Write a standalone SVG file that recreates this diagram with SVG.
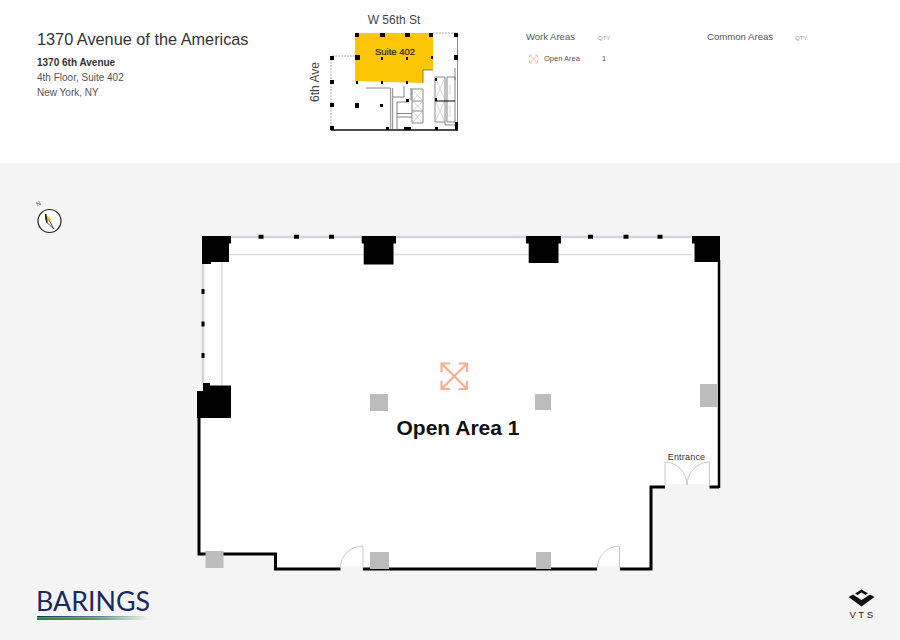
<svg xmlns="http://www.w3.org/2000/svg" width="900" height="640" viewBox="0 0 900 640">
<style>
text{font-family:"Liberation Sans",Arial,sans-serif}
.col{fill:#000}
.gc{fill:#bcbcbc}
.wall{fill:none;stroke:#000;stroke-width:3;stroke-linejoin:miter}
.door{fill:none;stroke:#c8c8c8;stroke-width:1}
.gl{stroke:#d5d3e0;stroke-width:2.500;fill:none}
.in{stroke:#dcdcdc;stroke-width:1.500;fill:none}
.k{fill:none;stroke:#555;stroke-width:.7}
.kd{fill:none;stroke:#999;stroke-width:.8;stroke-dasharray:2 1}
.kl{fill:none;stroke:#bbb;stroke-width:.6}
.kw{fill:none;stroke:#111;stroke-width:1.500}
.ic{fill:none;stroke:#f8ae93;stroke-width:2.200}
</style>
<defs>
<linearGradient id="g1" x1="0" x2="1" y1="0" y2="0"><stop offset="0" stop-color="#1f8a3a"/><stop offset=".5" stop-color="#4f9a60"/><stop offset="1" stop-color="#f4f4f4"/></linearGradient>
<linearGradient id="g2" x1="0" x2="1" y1="0" y2="0"><stop offset="0" stop-color="#17305f"/><stop offset=".6" stop-color="#7080a0"/><stop offset="1" stop-color="#f4f4f4"/></linearGradient>
</defs>
<rect width="900" height="640" fill="#fff"/>
<rect y="163" width="900" height="477" fill="#f4f4f4"/>

<g id="header">
<text x="37" y="45" font-size="16.300" fill="#333">1370 Avenue of the Americas</text>
<text x="37" y="66" font-size="10" font-weight="700" fill="#333">1370 6th Avenue</text>
<text x="37" y="81" font-size="10" fill="#555">4th Floor, Suite 402</text>
<text x="37" y="96" font-size="10" fill="#555">New York, NY</text>
</g>

<g id="key-plan">
<text x="394" y="24" font-size="12" text-anchor="middle" fill="#444">W 56th St</text>
<text transform="translate(319,82) rotate(-90)" font-size="12" text-anchor="middle" fill="#444">6th Ave</text>
<path d="M355 33H433V70H423V83L355 81Z" fill="#fdc605"/>
<path class="kd" d="M331 130V56H355M433 33H458"/>
<path class="k" d="M457.500 33V130"/>
<path class="kw" d="M331 130H458"/>
<path class="k" d="M366 88H390.500M390.700 88V130M392.700 88V130M397 102H408M397 102V130M397 113.500H412M397 117H412M412 89H423V123H412ZM412 101H423M412 111H423M435 77H445V122H435ZM447 77H455V122H447ZM445 122V125H456M423 70H433M423 70V83M455 68V80M411 88V100M404 86V97H393"/>
<path class="kl" d="M412 89L423 101M423 89L412 101M412 101L423 111M423 101L412 111M412 111L423 123M423 111L412 123M435 77L445 100M445 77L435 100M435 100L445 122M445 100L435 122M450 85V95M450 105V117"/>
<path class="col" d="M355 33h4v4h-4ZM380 33h5v4h-5ZM405 33h5v4h-5ZM429 33h4v4h-4ZM454 33h4v4h-4ZM355 55h5v5h-5ZM381 57h2v3h-2ZM406 57h2v3h-2ZM431 56h2v3h-2ZM454 55h4v5h-4ZM330 56h4v4h-4ZM330 80h4v4h-4ZM330 103h4v4h-4ZM355 103h4v5h-4ZM380 104h3v3h-3ZM356 81h2v3h-2ZM381 81h2v3h-2ZM406 81h2v3h-2ZM406 99h3v3h-3ZM330 126h4v4h-4ZM404 127h7v3h-7ZM386 127h3v3h-3ZM435 127h3v3h-3ZM455 122h3v8h-3ZM435 78h2v3h-2ZM435 98h2v3h-2ZM435 100.500h20v1h-20Z"/>
<text x="395" y="55" font-size="9.500" text-anchor="middle" fill="#222" stroke="#222" stroke-width=".2">Suite 402</text>
</g>

<g id="legend">
<text x="526" y="40" font-size="9.500" fill="#555">Work Areas</text>
<text x="598" y="40" font-size="6" fill="#999">QTY</text>
<g class="ic" style="stroke-width:.8"><path d="M530 55.500l7 7M537 55.500l-7 7M529.500 57.500v-2.500h2.500M535 55h2.500v2.500M529.500 60.500v2.500h2.500M535 63h2.500v-2.500"/></g>
<text x="544" y="61" font-size="7.500" fill="#555">Open Area</text>
<text x="602" y="61" font-size="7.500" fill="#555">1</text>
<text x="707" y="40" font-size="9.600" fill="#555">Common Areas</text>
<text x="795" y="40" font-size="6" fill="#999">QTY</text>
</g>

<g id="compass">
<text transform="translate(39.500,205.500) rotate(-30)" font-size="6" text-anchor="middle" fill="#555">N</text>
<circle cx="49.500" cy="221" r="11.500" fill="#fff" stroke="#222" stroke-width="1.200"/>
<path d="M45.500 214L54 229L50 225.500L46.500 222Z" fill="#fff" stroke="#222" stroke-width=".8"/>
<path d="M45.500 214L51 219.500L47 222.500Z" fill="#f5b400"/>
<path d="M45.500 214L47 222.500L46 219Z" stroke="#111" stroke-width="1.200"/>
</g>

<g id="floor-plan">
<path d="M202 236H720V487H650V569H275V554H198V385H202Z" fill="#fff"/>
<rect x="665" y="484" width="45" height="5" fill="#f4f4f4"/>
<rect x="341" y="566" width="22" height="5" fill="#f4f4f4"/>
<rect x="598" y="566" width="22" height="5" fill="#f4f4f4"/>
</g>

<g id="connectors">
<path class="gl" d="M203 264V385M229 237H692"/>
<path class="in" d="M229 254.500H692M222 262V385"/>
<path class="wall" d="M709.500 487H719M665 487H651V569H620M597 569H363M340.500 569H275.500V554H199V415"/>
<path d="M719 260V488" stroke="#000" stroke-width="2.500" fill="none"/>
<path class="door" d="M665 485V462C677 462 687 473 687 485C687 473 697 462 709.500 462V485"/>
<path class="door" d="M340.500 568C340.500 556 350 546 363 546V568"/>
<path class="door" d="M597.500 568C597.500 556 607 546 619.500 546V568"/>
</g>

<g id="columns">
<path class="col" d="M202 236H231V243.500H229V262H211V264H202Z"/>
<path class="col" d="M361.700 236H396V243.500H393.500V264.500H363.700V243.500H361.700Z"/>
<path class="col" d="M526 236H561V243.500H558.500V263H528.700V243.500H526Z"/>
<path class="col" d="M692 236H720V262H694.500V243.500H692Z"/>
<path class="col" d="M197 391H203V383H210V385.500H231V418H197Z"/>
<path class="col" d="M258.500 234.800h5v4h-5ZM294 234.800h5v4h-5ZM329 234.800h5v4h-5ZM588 234.800h5v4h-5ZM623.500 234.800h5v4h-5ZM657.500 234.800h5v4h-5ZM201.500 289h3v5h-3ZM201.500 321.500h3v5h-3ZM201.500 353h3v5h-3Z"/>
<rect class="gc" x="370" y="394" width="18" height="17"/>
<rect class="gc" x="535" y="394" width="16" height="16"/>
<rect class="gc" x="700" y="384" width="17" height="23"/>
<rect class="gc" x="205.500" y="551" width="18" height="17"/>
<rect class="gc" x="370" y="552" width="19" height="17"/>
<rect class="gc" x="536" y="552" width="15" height="17"/>
</g>

<g id="open-area">
<g class="ic"><path d="M442.500 364.500L466 388M466 364.500L442.500 388M441.500 372V363.500H450M458.500 363.500H467V372M441.500 381V389H450M458.500 389H467V381"/></g>
<text x="458" y="435" font-size="21" font-weight="700" text-anchor="middle" fill="#111">Open Area 1</text>
<text x="686.500" y="460" font-size="9" text-anchor="middle" letter-spacing=".2" fill="#333">Entrance</text>
</g>

<g id="barings-logo">
<text x="36" y="611" font-size="27" textLength="114" lengthAdjust="spacingAndGlyphs" style="font-family:'Lato',sans-serif;fill:#1a2a5e">BARINGS</text>
<rect x="37" y="616" width="112" height="1.500" fill="url(#g2)"/>
<rect x="37" y="617.500" width="112" height="2.500" fill="url(#g1)"/>
</g>

<g id="vts-logo">
<path d="M848.500 597L853 594.500L861.500 600L870 594.500L874.500 597L861.500 606.500Z" fill="#111"/>
<path d="M855 593.500L861.500 589.500L868 593.500L865.500 595L861.500 592.500L857.500 595Z" fill="#111"/>
<text x="862.500" y="618" font-size="9.500" text-anchor="middle" letter-spacing="2.500" fill="#222">VTS</text>
</g>
</svg>
